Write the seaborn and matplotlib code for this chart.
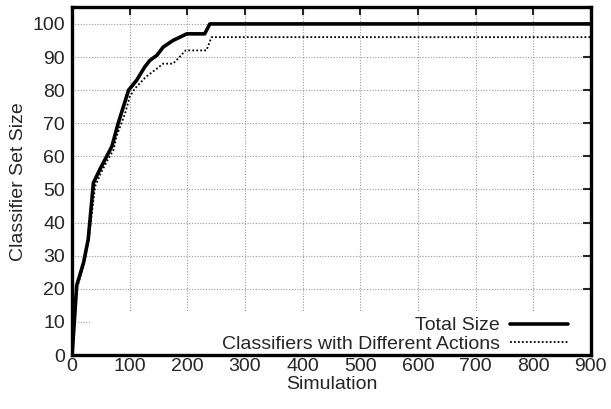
#!/usr/bin/env python3

import pandas as pd
import seaborn as sns
import matplotlib.pyplot as plt
from matplotlib.patches import Rectangle

# Values.
total_x = [0, 8, 20, 28, 37, 48, 60, 69, 80, 89, 98, 112, 126, 135, 147, 158, 175, 199, 230, 239, 900]
total_y = [0, 21, 28, 35, 52, 56, 60, 63, 70, 75, 80, 83, 87, 89, 90.5, 93, 95, 97, 97, 100, 100]

diff_x = [0, 8, 20, 28, 40, 50, 62, 72, 77, 92, 100, 109, 128, 147, 158, 175, 181, 197, 230, 233, 242, 900]
diff_y = [0, 20, 27, 34, 51, 55, 59, 62, 66, 73, 78, 80.5, 84, 86.5, 88, 88, 89, 92, 92, 92, 96, 96]

x_ticks = list(range(0, 1000, 100))
y_ticks = list(range(0, 110, 10))

sns.set_style('white')
plt.rcParams['font.family'] = ['Liberation Sans', 'DejaVu Sans']
plt.rcParams['font.size'] = 14

fig = plt.figure(figsize=(6.11, 4.09), dpi=100)
ax = fig.add_axes([0.118, 0.132, 0.849, 0.85])

total = pd.DataFrame({'sim': total_x, 'size': total_y})
diff = pd.DataFrame({'sim': diff_x, 'size': diff_y})

sns.lineplot(data=total, x='sim', y='size', color='black', linewidth=2.6,
             label='Total Size', ax=ax, zorder=3)
sns.lineplot(data=diff, x='sim', y='size', color='black', linewidth=1.3,
             linestyle=(0, (1, 1.2)), label='Classifiers with Different Actions',
             ax=ax, zorder=3)

ax.set_xlim(0, 900)
ax.set_ylim(0, 105)
ax.set_xticks(x_ticks)
ax.set_yticks(y_ticks)
ax.grid(True, color='#999999', linestyle=(0, (1, 1.5)), linewidth=0.8)
ax.tick_params(direction='in', length=6, width=1.5, top=True, right=True,
               labelsize=14)
ax.tick_params(axis='x', pad=2)
ax.tick_params(axis='y', pad=5)
for s in ax.spines.values():
    s.set_linewidth(2.4)
    s.set_color('black')
    s.set_zorder(5)

# opaque key area hides the grid, like the gnuplot key
ax.add_patch(Rectangle((0.035, 0), 0.965, 0.125, transform=ax.transAxes,
                       facecolor='white', edgecolor='none', zorder=2))

ax.set_xlabel('Simulation', fontsize=14, labelpad=1)
ax.set_ylabel('Classifier Set Size', fontsize=14, labelpad=4)

leg = ax.legend(loc='lower right', bbox_to_anchor=(0.96, 0.0), markerfirst=False,
                frameon=False, fontsize=14, handlelength=3.0, borderaxespad=0.0,
                labelspacing=0.05, handletextpad=0.5, borderpad=0.1)
leg.set_zorder(4)
for t in leg.get_texts():
    t.set_ha('right')

fig.savefig('out.png', dpi=100)
